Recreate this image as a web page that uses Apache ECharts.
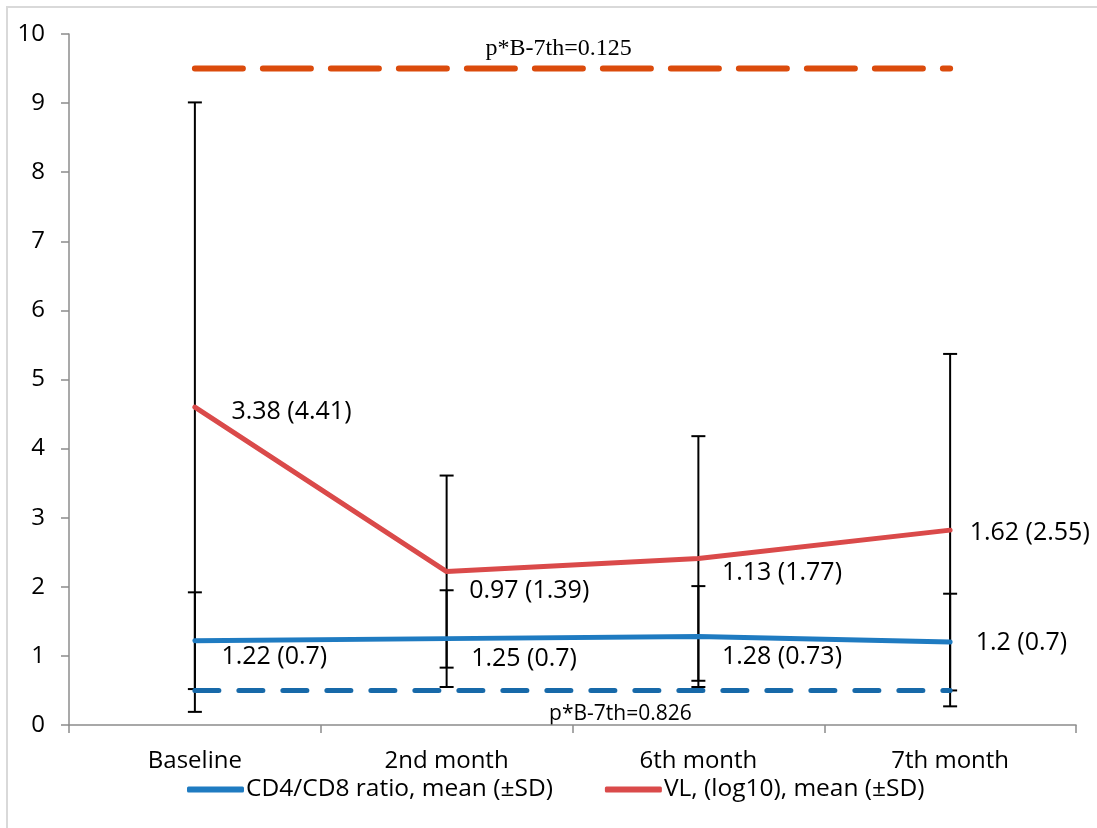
<!DOCTYPE html>
<html><head><meta charset="utf-8">
<script src="https://cdn.jsdelivr.net/npm/echarts@6/dist/echarts.min.js"></script>
<style>html,body{margin:0;padding:0;background:#fff}#c{width:1097px;height:828px}</style>
</head><body><div id="c"></div>
<script>
const categories = ['Baseline', '2nd month', '6th month', '7th month'];
// plotted positions
const vlPlot = [4.60, 2.22, 2.41, 2.82];
const cd4Plot = [1.22, 1.25, 1.28, 1.20];
// labelled mean and SD
const vlMean = [3.38, 0.97, 1.13, 1.62];
const vlSD = [4.41, 1.39, 1.77, 2.55];
const cd4Mean = [1.22, 1.25, 1.28, 1.2];
const cd4SD = [0.7, 0.7, 0.73, 0.7];
const yTicks = [0, 1, 2, 3, 4, 5, 6, 7, 8, 9, 10];
const pVL = 9.5, pCD4 = 0.5;
const pVLText = 'p*B-7th=0.125', pCD4Text = 'p*B-7th=0.826';
const seriesNames = ['CD4/CD8 ratio, mean (±SD)', 'VL, (log10), mean (±SD)'];

const FONT = 'Open Sans';
const vlOff = [[36, 5], [22, 19], [23, 14], [19, 3]];
const cd4Off = [[26, 16], [24, 20], [23, 20], [25, 1]];

function labelData(plot, mean, sd, off) {
  return plot.map((v, i) => ({
    value: v,
    label: { show: true, position: 'right', distance: 0, offset: off[i],
      formatter: mean[i] + ' (' + sd[i] + ')', color: '#000', fontSize: 25, fontFamily: FONT }
  }));
}
function errData(plot, sd) { return plot.map((v, i) => [i, v - sd[i], v + sd[i], v]); }

const errRender = function (params, api) {
  const x = api.value(0);
  const lo = api.coord([x, api.value(1)]);
  const hi = api.coord([x, api.value(2)]);
  const hw = 7;
  const st = { stroke: '#000', lineWidth: 2 };
  return { type: 'group', children: [
    { type: 'line', shape: { x1: lo[0], y1: lo[1], x2: hi[0], y2: hi[1] }, style: st },
    { type: 'line', shape: { x1: lo[0] - hw, y1: lo[1], x2: lo[0] + hw, y2: lo[1] }, style: st },
    { type: 'line', shape: { x1: hi[0] - hw, y1: hi[1], x2: hi[0] + hw, y2: hi[1] }, style: st }
  ]};
};

const chart = echarts.init(document.getElementById('c'), null, { renderer: 'canvas' });
chart.setOption({
  animation: false,
  backgroundColor: '#fff',
  textStyle: { fontFamily: FONT },
  grid: { left: 69, right: 21, top: 34, bottom: 103, containLabel: false },
  xAxis: {
    type: 'category', data: categories, boundaryGap: true,
    axisLine: { lineStyle: { color: '#8c8c8c', width: 1.5 } },
    axisTick: { show: true, length: 8, lineStyle: { color: '#8c8c8c', width: 1.5 } },
    axisLabel: { color: '#000', fontSize: 24, fontFamily: FONT, margin: 24 }
  },
  yAxis: {
    type: 'value', min: yTicks[0], max: yTicks[yTicks.length - 1], interval: 1,
    axisLine: { show: true, lineStyle: { color: '#8c8c8c', width: 1.5 } },
    axisTick: { show: true, length: 8, lineStyle: { color: '#8c8c8c', width: 1.5 } },
    splitLine: { show: false },
    axisLabel: { color: '#000', fontSize: 24, fontFamily: FONT, margin: 24 }
  },
  legend: {
    bottom: 21, left: 182, itemWidth: 57, itemHeight: 6, itemGap: 52, icon: 'roundRect',
    data: seriesNames,
    textStyle: { color: '#000', fontSize: 24.5, fontFamily: FONT, padding: [0, 0, 0, -3] }
  },
  series: [
    { type: 'custom', name: 'errCD4', renderItem: errRender, data: errData(cd4Plot, cd4SD), z: 1, silent: true },
    { type: 'custom', name: 'errVL', renderItem: errRender, data: errData(vlPlot, vlSD), z: 1, silent: true },
    {
      type: 'line', name: 'pVL', data: categories.map(() => pVL), symbol: 'none', z: 3, silent: true,
      lineStyle: { color: '#DB4B0C', width: 6, type: [48, 20], cap: 'round' }
    },
    {
      type: 'line', name: 'pCD4', data: categories.map(() => pCD4), symbol: 'none', z: 3, silent: true,
      lineStyle: { color: '#1769A9', width: 5, type: [24, 20], cap: 'round' }
    },
    {
      type: 'line', name: seriesNames[0], data: labelData(cd4Plot, cd4Mean, cd4SD, cd4Off),
      symbol: 'circle', symbolSize: 1, showSymbol: true, itemStyle: { color: '#1F7BC1' },
      lineStyle: { color: '#1F7BC1', width: 5, cap: 'round' }, z: 4
    },
    {
      type: 'line', name: seriesNames[1], data: labelData(vlPlot, vlMean, vlSD, vlOff),
      symbol: 'circle', symbolSize: 1, showSymbol: true, itemStyle: { color: '#DA4A4A' },
      lineStyle: { color: '#DA4A4A', width: 5, cap: 'round' }, z: 4
    }
  ]
});
// p-value annotations placed relative to data coordinates
const a = chart.convertToPixel({ seriesIndex: 2 }, [1, pVL]);
const b = chart.convertToPixel({ seriesIndex: 3 }, [2, pCD4]);
chart.setOption({
  graphic: [
    { type: 'rect', shape: { x: 7, y: 7, width: 1200, height: 900 }, style: { fill: 'none', stroke: '#d9d9d9', lineWidth: 2 }, silent: true },
    { type: 'text', x: a[0] + 112, y: a[1] - 20, style: { text: pVLText, font: '24px "Liberation Serif"', fill: '#000', textAlign: 'center', textVerticalAlign: 'middle' } },
    { type: 'text', x: b[0] - 78, y: b[1] + 24, style: { text: pCD4Text, font: '21px "Open Sans"', fill: '#000', textAlign: 'center', textVerticalAlign: 'middle' } }
  ]
});
</script></body></html>
